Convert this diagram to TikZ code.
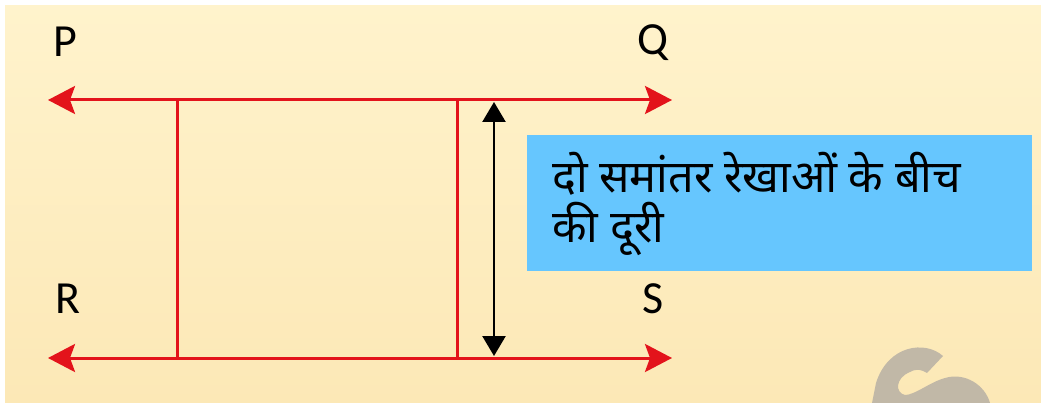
\documentclass[tikz,border=0pt]{standalone}
\usepackage{fontspec}
\setmainfont{Carlito}
\newfontfamily\deva[Script=Devanagari]{Noto Sans}
\usetikzlibrary{arrows.meta}
\definecolor{cream}{HTML}{FFF3CC}
\definecolor{creamdark}{HTML}{FCE8B6}
\definecolor{redline}{HTML}{E3131B}
\definecolor{boxblue}{HTML}{66C6FE}
\definecolor{wmark}{HTML}{C1B8A7}
\tikzset{
  redarrow/.style={draw=redline, line width=3pt, {Stealth[length=27pt,width=28pt,inset=5pt]}-{Stealth[length=27pt,width=28pt,inset=5pt]}},
  redline/.style={draw=redline, line width=3pt},
  dist/.style={draw=black, line width=2.5pt, {Triangle[length=20pt,width=23pt]}-{Triangle[length=20pt,width=23pt]}},
  lbl/.style={font=\fontsize{46}{46}\selectfont, inner sep=0pt, anchor=base west},
  devatext/.style={anchor=base west, inner sep=0pt, font=\deva\fontsize{45}{52}\selectfont},
}
\begin{document}
\begin{tikzpicture}[x=1pt,y=-1pt]
\useasboundingbox (0,0) rectangle (1041,403);
\fill[white] (0,0) rectangle (1041,403);
\shade[top color=cream, bottom color=creamdark] (5,6) rectangle (1041,403);
% watermark
\fill[wmark] (943,356) .. controls (925,340) and (888,345) .. (876,383) -- (872,403) -- (990,403)
  .. controls (985,385) and (965,372) .. (945,378) .. controls (930,382) and (915,395) .. (905,395)
  .. controls (895,393) and (895,378) .. (910,372) .. controls (917,368) and (922,370) .. (927,373) -- cycle;
% points
\coordinate (Pl) at (48,100);
\coordinate (Qr) at (672,100);
\coordinate (Rl) at (48,358);
\coordinate (Sr) at (672,358);
\coordinate (a1) at (177,100);
\coordinate (a2) at (177,358);
\coordinate (b1) at (457,100);
\coordinate (b2) at (457,358);
\coordinate (d1) at (494,102);
\coordinate (d2) at (494,356);
\draw[redline] (a1) -- (a2);
\draw[redline] (b1) -- (b2);
\draw[redarrow] (Pl) -- (Qr);
\draw[redarrow] (Rl) -- (Sr);
\draw[dist] (d1) -- (d2);
% labels
\node[lbl] (P) at (53,57) {P};
\node[lbl] (Q) at (637,55) {Q};
\node[lbl] (R) at (55,313) {R};
\node[lbl] (S) at (642,313) {S};
% box
\node[fill=boxblue, minimum width=505pt, minimum height=136pt, anchor=north west, inner sep=0pt] (box) at (527,135) {};
\node[devatext] (txt) at (552,193) {दो समांतर रेखाओं के बीच};
\node[devatext] (txt2) at (552,243) {की दूरी};
\end{tikzpicture}
\end{document}
